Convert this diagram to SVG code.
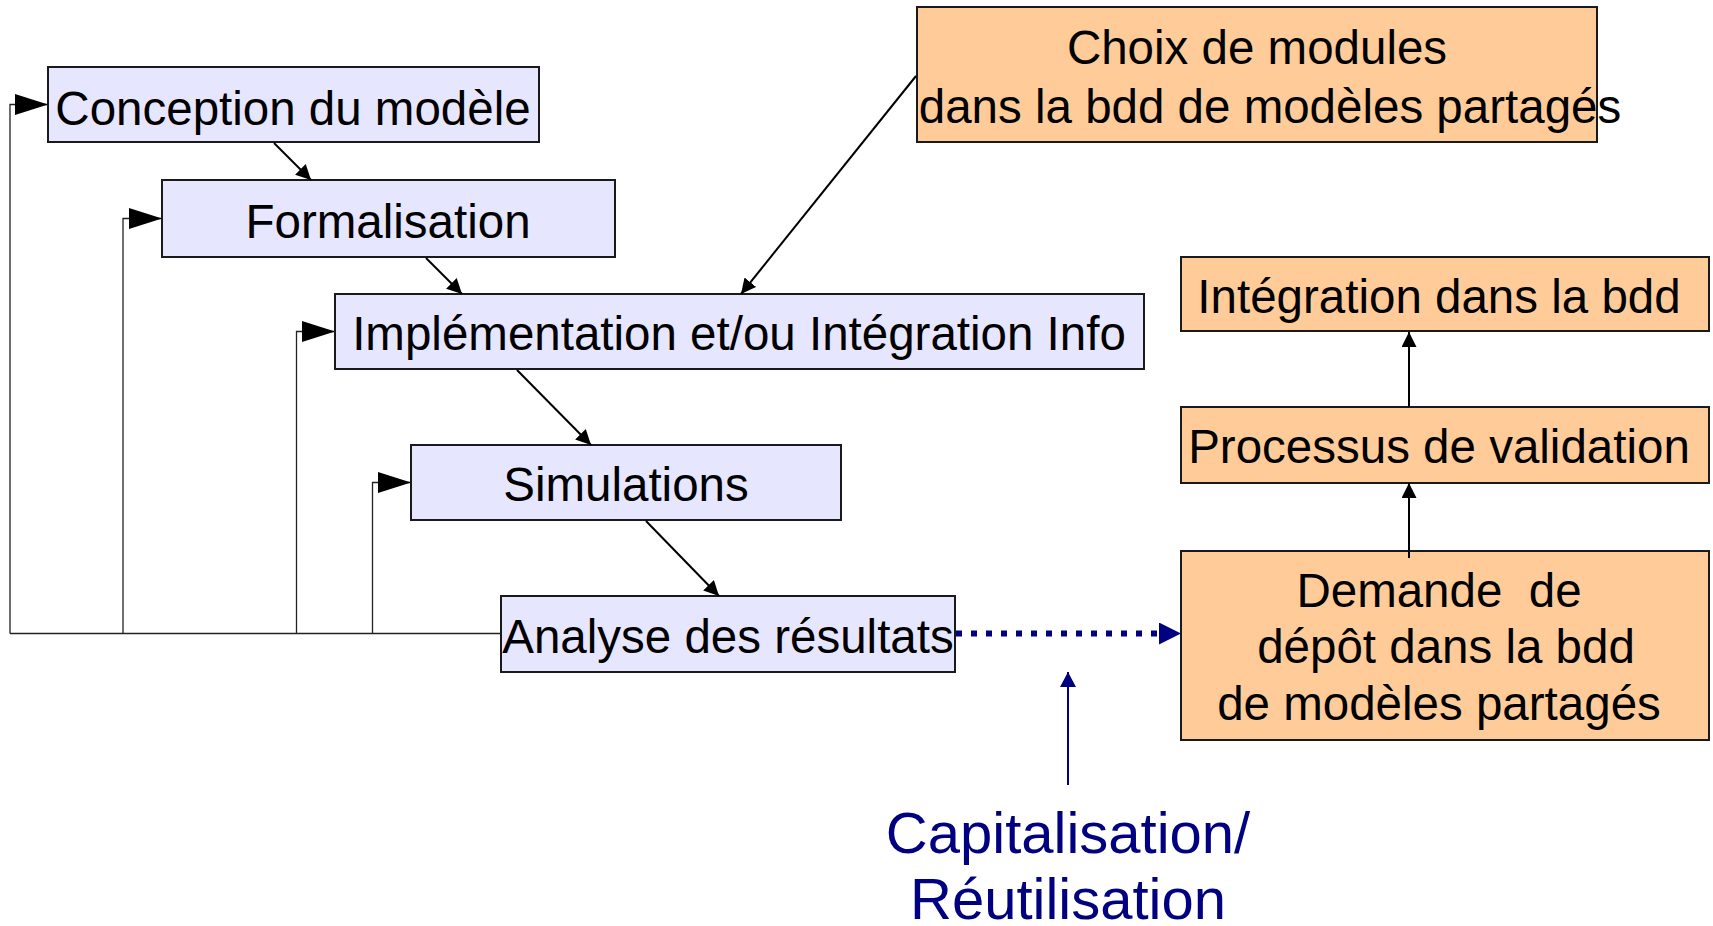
<svg xmlns="http://www.w3.org/2000/svg" width="1713" height="926" viewBox="0 0 1713 926">
<defs>
<style>
.box{stroke:#1a1a1a;stroke-width:2}
.lav{fill:#e6e6ff}
.org{fill:#ffcc99}
text{font-family:"Liberation Sans",Arial,sans-serif;font-size:47.5px;fill:#000;text-anchor:middle;white-space:pre}
.cap{font-size:58px;fill:#000080}
.fb{fill:none;stroke:#222;stroke-width:1.3}
.ln{fill:none;stroke:#000;stroke-width:2}
</style>
<marker id="big" markerUnits="userSpaceOnUse" markerWidth="34" markerHeight="22" refX="33" refY="10.5" orient="auto"><path d="M0,0 L33,10.5 L0,21 z" fill="#000"/></marker>
<marker id="sm" markerUnits="userSpaceOnUse" markerWidth="16" markerHeight="16" refX="15" refY="7.5" orient="auto"><path d="M0,0 L15,7.5 L0,15 z" fill="#000"/></marker>
<marker id="bl" markerUnits="userSpaceOnUse" markerWidth="23" markerHeight="23" refX="0" refY="11" orient="auto"><path d="M0,0 L22,11 L0,22 z" fill="#000080"/></marker>
<marker id="bls" markerUnits="userSpaceOnUse" markerWidth="17" markerHeight="17" refX="15" refY="8" orient="auto"><path d="M0,0 L15,8 L0,16 z" fill="#000080"/></marker>
</defs>
<rect width="1713" height="926" fill="#fff"/>
<g id="n-conception"><rect class="box lav" x="48" y="67" width="491" height="75"/><text x="293" y="125">Conception du modèle</text></g>
<g id="n-formalisation"><rect class="box lav" x="162" y="180" width="453" height="77"/><text x="388" y="238">Formalisation</text></g>
<g id="n-implementation"><rect class="box lav" x="335" y="294" width="809" height="75"/><text x="739" y="350">Implémentation et/ou Intégration Info</text></g>
<g id="n-simulations"><rect class="box lav" x="411" y="445" width="430" height="75"/><text x="626" y="501">Simulations</text></g>
<g id="n-analyse"><rect class="box lav" x="501" y="596" width="454" height="76"/><text x="728" y="653">Analyse des résultats</text></g>
<g id="n-choix"><rect class="box org" x="917" y="7" width="680" height="135"/><text x="1257" y="64">Choix de modules</text><text x="1270" y="123">dans la bdd de modèles partagés</text></g>
<g id="n-integration"><rect class="box org" x="1181" y="257" width="528" height="74"/><text x="1439" y="313">Intégration dans la bdd</text></g>
<g id="n-processus"><rect class="box org" x="1181" y="407" width="528" height="76"/><text x="1439" y="463">Processus de validation</text></g>
<g id="n-demande"><rect class="box org" x="1181" y="551" width="528" height="189"/><text x="1439" y="607">Demande  de</text><text x="1446" y="663">dépôt dans la bdd</text><text x="1439" y="720">de modèles partagés</text></g>
<g id="n-capitalisation"><text class="cap" x="1068" y="853">Capitalisation/</text><text class="cap" x="1068" y="919">Réutilisation</text></g>
<g id="connectors">
<path class="fb" d="M501,633.5 H10"/>
<path class="fb" d="M10,633.5 V104.5 H48" marker-end="url(#big)"/>
<path class="fb" d="M123,633.5 V218.5 H162" marker-end="url(#big)"/>
<path class="fb" d="M296.5,633.5 V331.5 H335" marker-end="url(#big)"/>
<path class="fb" d="M372.5,633.5 V482.5 H411" marker-end="url(#big)"/>
<line class="ln" x1="274" y1="143" x2="311" y2="180" marker-end="url(#sm)"/>
<line class="ln" x1="426" y1="258" x2="462" y2="294" marker-end="url(#sm)"/>
<line class="ln" x1="517" y1="370" x2="591" y2="445" marker-end="url(#sm)"/>
<line class="ln" x1="646" y1="521" x2="719" y2="596" marker-end="url(#sm)"/>
<line class="ln" x1="916" y1="76" x2="741" y2="294" marker-end="url(#sm)"/>
<line class="ln" x1="1409" y1="407" x2="1409" y2="332" marker-end="url(#sm)"/>
<line class="ln" x1="1409" y1="558" x2="1409" y2="483" marker-end="url(#sm)"/>
<line x1="956" y1="633.5" x2="1159" y2="633.5" stroke="#000080" stroke-width="6" stroke-dasharray="6 9" marker-end="url(#bl)"/>
<line x1="1068" y1="785" x2="1068" y2="672" stroke="#000080" stroke-width="2" marker-end="url(#bls)"/>
</g>
</svg>
